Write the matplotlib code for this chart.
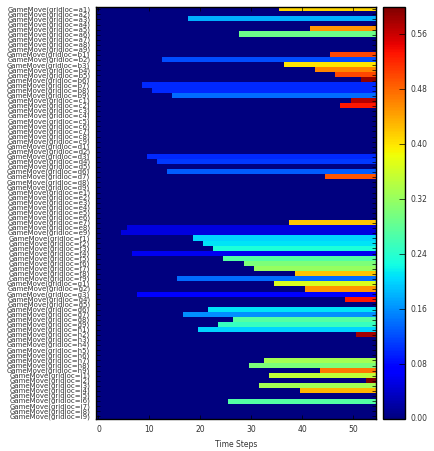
import numpy as np
import matplotlib
matplotlib.use("Agg")
import matplotlib.pyplot as plt

labels = [f"GameMove(gridloc={c}{n})" for c in "abcdefghi" for n in range(1, 10)]
n_steps = 55
bar_rows   = [0, 2, 4, 5, 9, 10, 11, 12, 13, 14, 15, 16, 17, 18, 19, 29, 30, 32, 33,
              42, 43, 44, 45, 46, 47, 48, 49, 50, 51, 52, 53, 54, 55, 56, 57,
              59, 60, 61, 62, 63, 64, 69, 70, 71, 72, 73, 74, 75, 77]
bar_starts = [36, 18, 42, 28, 46, 13, 37, 43, 47, 52, 9, 11, 15, 50, 48, 10, 12, 14, 45,
              38, 6, 5, 19, 21, 23, 7, 25, 29, 31, 39, 16, 35, 41, 8, 49,
              22, 17, 27, 24, 20, 51, 33, 30, 44, 34, 53, 32, 40, 26]
bar_values = [0.41, 0.18, 0.45, 0.29, 0.50, 0.12, 0.40, 0.46, 0.50, 0.59, 0.10, 0.10, 0.14, 0.57, 0.53, 0.10, 0.11, 0.13, 0.49,
              0.42, 0.05, 0.05, 0.20, 0.21, 0.23, 0.06, 0.27, 0.30, 0.32, 0.42, 0.14, 0.37, 0.45, 0.07, 0.53,
              0.21, 0.16, 0.27, 0.25, 0.20, 0.58, 0.33, 0.30, 0.47, 0.35, 0.60, 0.33, 0.43, 0.27]

data = np.zeros((len(labels), n_steps))
for r, s, v in zip(bar_rows, bar_starts, bar_values):
    data[r, s:] = v

plt.style.use("classic")
fig = plt.figure(figsize=(4.34, 4.51), dpi=100, facecolor="white")
ax = fig.add_axes([0.221, 0.071, 0.645, 0.914])
im = ax.imshow(data, aspect="auto", cmap="jet", interpolation="nearest", vmin=0, vmax=0.6)
ax.set_yticks(range(len(labels)))
ax.set_yticklabels(labels, fontsize=5, color="#333333")
ax.set_xticks([0, 10, 20, 30, 40, 50])
ax.tick_params(axis="x", labelsize=5.5, labelcolor="#333333")
ax.tick_params(axis="both", length=3)
ax.set_xlim(-0.5, n_steps - 0.5)
ax.set_xlabel("Time Steps", fontsize=5.5, color="#333333")
cax = fig.add_axes([0.883, 0.071, 0.051, 0.914])
cb = fig.colorbar(im, cax=cax, ticks=np.arange(0, 0.6, 0.08))
cb.ax.tick_params(labelsize=5.5, labelcolor="#333333")
cb.ax.set_yticklabels([f"{t:.2f}" for t in np.arange(0, 0.6, 0.08)])
fig.savefig("out.png", dpi=100, facecolor="white")
